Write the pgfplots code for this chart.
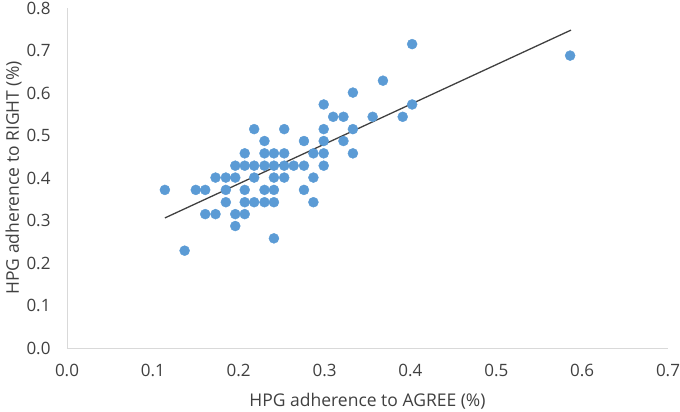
\documentclass[border=0pt]{standalone}
\usepackage{fontspec}
\setmainfont{Open Sans}
\usepackage{pgfplots}
\pgfplotsset{compat=1.18}
\usepackage{pgfplotstable}

\definecolor{dotblue}{HTML}{5B9BD5}
\definecolor{axgray}{HTML}{D9D9D9}
\definecolor{txtgray}{HTML}{404040}

% HPG adherence: AGREE (x) vs RIGHT (y)
\pgfplotstableread{
x y
0.114 0.372
0.137 0.229
0.150 0.372
0.161 0.372
0.161 0.315
0.173 0.401
0.173 0.315
0.185 0.401
0.185 0.372
0.185 0.343
0.196 0.429
0.196 0.401
0.196 0.315
0.196 0.287
0.207 0.458
0.207 0.429
0.207 0.372
0.207 0.343
0.207 0.315
0.218 0.515
0.218 0.429
0.218 0.401
0.218 0.343
0.230 0.487
0.230 0.458
0.230 0.429
0.230 0.372
0.230 0.343
0.241 0.458
0.241 0.429
0.241 0.401
0.241 0.372
0.241 0.343
0.241 0.258
0.253 0.515
0.253 0.458
0.253 0.429
0.253 0.401
0.264 0.429
0.276 0.487
0.276 0.429
0.276 0.372
0.287 0.458
0.287 0.401
0.287 0.343
0.299 0.573
0.299 0.515
0.299 0.487
0.299 0.458
0.299 0.429
0.310 0.544
0.322 0.544
0.322 0.487
0.333 0.601
0.333 0.515
0.333 0.458
0.356 0.544
0.368 0.629
0.391 0.544
0.402 0.715
0.402 0.573
0.586 0.688
}\adherence

\begin{document}
\begin{tikzpicture}
\begin{axis}[
  scale only axis,
  width=601bp, height=340bp,
  xmin=0, xmax=0.7, ymin=0, ymax=0.8,
  xtick={0,0.1,...,0.7}, ytick={0,0.1,...,0.8},
  axis x line=bottom, axis y line=left,
  axis line style={-, draw=axgray, line width=0.9bp},
  major tick length=0,
  tick label style={font=\fontsize{17bp}{19bp}\selectfont, text=txtgray},
  label style={font=\fontsize{17.5bp}{20bp}\selectfont, text=txtgray},
  /pgf/number format/assume math mode=true,
  /pgf/number format/.cd, fixed, fixed zerofill, precision=1, /pgfplots/.cd,
  xticklabel style={yshift=-13bp},
  yticklabel style={xshift=-13bp},
  xlabel={HPG adherence to AGREE (\%)},
  ylabel={HPG adherence to RIGHT (\%)},
  xlabel style={yshift=-9bp},
  ylabel style={yshift=-2bp},
  clip=false,
]
\addplot[only marks, color=dotblue, mark=*, mark size=5bp, mark options={draw=dotblue, fill=dotblue}]
  table[x=x, y=y] {\adherence};
\addplot[color=txtgray, line width=1.3bp] coordinates {(0.114,0.306) (0.587,0.748)};
\end{axis}
\pgfresetboundingbox
\path[use as bounding box] ([shift={(-67bp,-64bp)}]current axis.south west) rectangle ([shift={(613bp,348bp)}]current axis.south west);
\end{tikzpicture}
\end{document}
